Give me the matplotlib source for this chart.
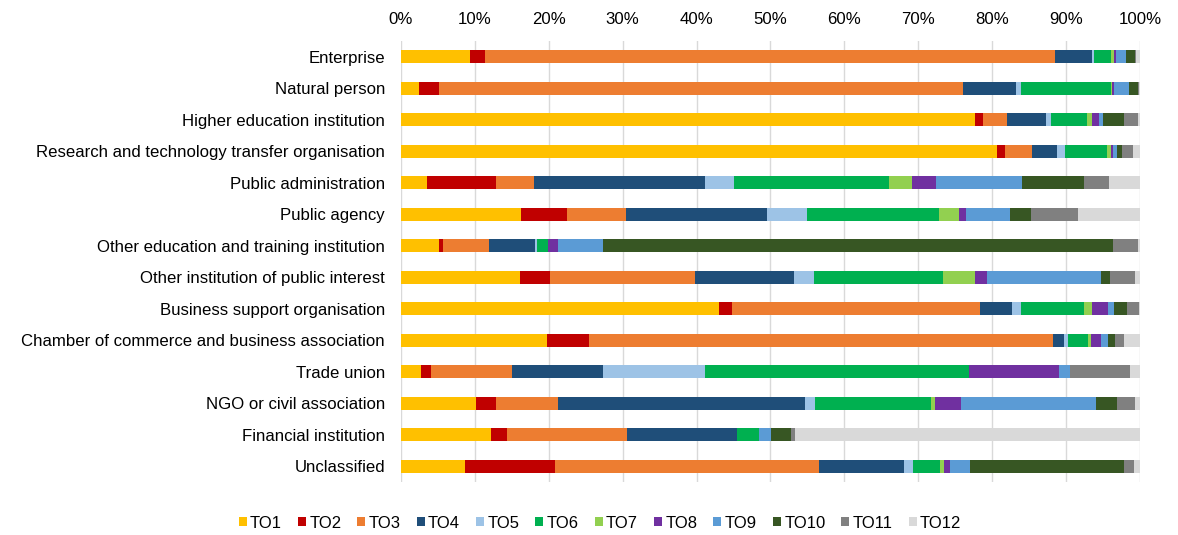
import numpy as np
import matplotlib.pyplot as plt
from matplotlib.ticker import FuncFormatter

plt.rcParams['font.family'] = ['Liberation Sans', 'DejaVu Sans']

categories = [
    'Enterprise',
    'Natural person',
    'Higher education institution',
    'Research and technology transfer organisation',
    'Public administration',
    'Public agency',
    'Other education and training institution',
    'Other institution of public interest',
    'Business support organisation',
    'Chamber of commerce and business association',
    'Trade union',
    'NGO or civil association',
    'Financial institution',
    'Unclassified',
]

series = ['TO1', 'TO2', 'TO3', 'TO4', 'TO5', 'TO6',
          'TO7', 'TO8', 'TO9', 'TO10', 'TO11', 'TO12']

# share (%) of each thematic objective per category, TO1..TO12
TO1 = [9.4, 2.5, 77.7, 80.6, 3.5, 16.2, 5.2, 16.1, 43.0, 19.7, 2.7, 10.1, 12.2, 8.6]
TO2 = [1.95, 2.6, 1.0, 1.1, 9.4, 6.2, 0.5, 4.1, 1.8, 5.7, 1.3, 2.8, 2.2, 12.3]
TO3 = [77.15, 71.0, 3.3, 3.7, 5.1, 8.0, 6.2, 19.6, 33.6, 62.8, 11.0, 8.3, 16.2, 35.7]
TO4 = [5.0, 7.1, 5.3, 3.4, 23.1, 19.1, 6.3, 13.4, 4.3, 1.5, 12.4, 33.5, 14.9, 11.5]
TO5 = [0.3, 0.7, 0.7, 1.0, 4.0, 5.5, 0.2, 2.7, 1.2, 0.6, 13.7, 1.3, 0.0, 1.2]
TO6 = [2.3, 12.2, 4.8, 5.7, 20.9, 17.8, 1.5, 17.4, 8.5, 2.7, 35.7, 15.7, 2.9, 3.7]
TO7 = [0.4, 0.1, 0.7, 0.6, 3.1, 2.7, 0.0, 4.4, 1.1, 0.4, 0.0, 0.5, 0.0, 0.5]
TO8 = [0.3, 0.3, 0.9, 0.3, 3.3, 1.0, 1.4, 1.6, 2.2, 1.3, 12.3, 3.6, 0.0, 0.8]
TO9 = [1.3, 2.0, 0.6, 0.5, 11.6, 5.9, 6.1, 15.4, 0.8, 1.0, 1.5, 18.2, 1.7, 2.7]
TO10 = [1.2, 1.3, 2.8, 0.7, 8.4, 2.8, 68.9, 1.2, 1.7, 0.9, 0.0, 2.9, 2.7, 20.8]
TO11 = [0.1, 0.1, 1.9, 1.5, 3.4, 6.4, 3.5, 3.4, 1.7, 1.3, 8.1, 2.4, 0.5, 1.4]
TO12 = [0.6, 0.1, 0.3, 0.9, 4.2, 8.4, 0.2, 0.7, 0.1, 2.1, 1.3, 0.7, 46.7, 0.8]

values = [TO1, TO2, TO3, TO4, TO5, TO6, TO7, TO8, TO9, TO10, TO11, TO12]

colors = ['#FFC000', '#C00000', '#ED7D31', '#1F4E79', '#9DC3E6', '#00B050',
          '#92D050', '#7030A0', '#5B9BD5', '#375623', '#808080', '#D9D9D9']

fig = plt.figure(figsize=(11.78, 5.35), dpi=100)
ax = fig.add_axes([0.3404, 0.0991, 0.6273, 0.8243])

y = np.arange(len(categories))
left = np.zeros(len(categories))
for name, vals, col in zip(series, values, colors):
    vals = np.array(vals)
    ax.barh(y, vals, left=left, height=0.42, color=col, label=name, zorder=3)
    left += vals

ax.set_xlim(0, 100)
ax.set_ylim(len(categories) - 0.5, -0.5)
ax.set_yticks(y)
ax.set_yticklabels(categories, fontsize=12.1)
ax.set_xticks(np.arange(0, 101, 10))
ax.xaxis.set_major_formatter(FuncFormatter(lambda v, p: f'{v:.0f}%'))
ax.xaxis.tick_top()
ax.tick_params(axis='x', labelsize=12.1, length=0, pad=10)
ax.tick_params(axis='y', length=0, pad=11.5)
ax.grid(axis='x', color='#D9D9D9', linewidth=1, zorder=0)
for s in ax.spines.values():
    s.set_visible(False)

fig.legend(loc='center', bbox_to_anchor=(600 / 1178, 1 - 523 / 535), ncol=12,
           frameon=False, fontsize=12, handlelength=0.48, handleheight=0.48,
           handletextpad=0.2, columnspacing=0.96)

fig.savefig('out.png', dpi=100)
